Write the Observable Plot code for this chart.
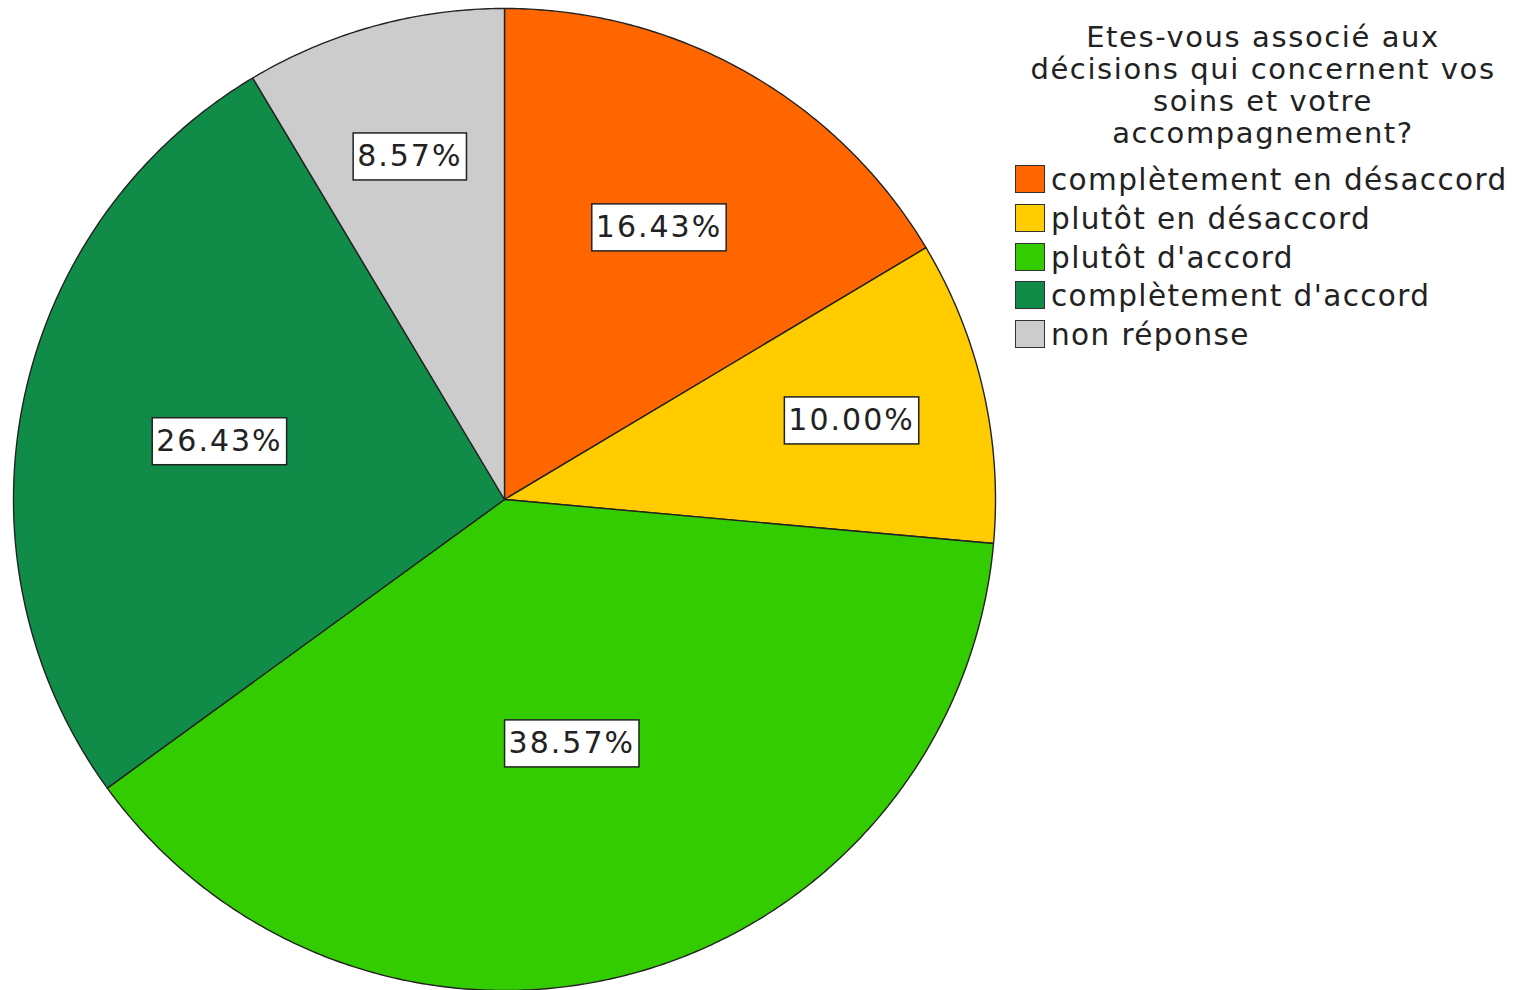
<!DOCTYPE html>
<html>
<head>
<meta charset="utf-8">
<script src="https://cdn.jsdelivr.net/npm/d3@7"></script>
<script src="https://cdn.jsdelivr.net/npm/@observablehq/plot@0.6"></script>
<style>
  html, body { margin: 0; padding: 0; background: #fff; }
  #wrap { position: relative; width: 1521px; height: 990px; font-family: "DejaVu Sans", Verdana, sans-serif; color: #222; }
  #legend { position: absolute; left: 1015px; top: 21px; width: 496px; }
  #legend .title { text-align: center; font-size: 29px; line-height: 32px; letter-spacing: 1.6px; width: 496px; }
  #legend .row { display: flex; align-items: center; height: 38.7px; font-size: 29.5px; letter-spacing: 1.4px; white-space: nowrap; }
  #legend .row span { position: relative; top: 1px; }
  #legend .sw { width: 28px; height: 26px; border: 1.5px solid #333; margin-right: 6px; box-sizing: content-box; }
  #legend .items { margin-top: 11px; }
</style>
</head>
<body>
<div id="wrap"></div>
<script>
// Data
const legendTitle = ["Etes-vous associé aux", "décisions qui concernent vos", "soins et votre", "accompagnement?"];
const categories = ["complètement en désaccord", "plutôt en désaccord", "plutôt d'accord", "complètement d'accord", "non réponse"];
const percents = [16.43, 10.00, 38.57, 26.43, 8.57];
const colors = ["#ff6600", "#ffcc00", "#33cc00", "#108c48", "#cccccc"];

// Build slice geometry in unit coordinates (start at 12 o'clock, clockwise)
const total = d3.sum(percents);
const slicePts = [];
const labels = [];
let acc = 0;
categories.forEach((c, i) => {
  const a0 = acc / total * 2 * Math.PI;
  acc += percents[i];
  const a1 = acc / total * 2 * Math.PI;
  slicePts.push({cat: c, x: 0, y: 0});
  const n = Math.max(2, Math.ceil((a1 - a0) / (Math.PI / 360)));
  for (let k = 0; k <= n; k++) {
    const a = a0 + (a1 - a0) * k / n;
    slicePts.push({cat: c, x: Math.sin(a), y: Math.cos(a)});
  }
  // label position: sector centroid; narrow slices pushed outward
  const th = a1 - a0;
  let r = 2 * Math.sin(th / 2) / (3 * th / 2);
  if (percents[i] / total < 0.12) r = 0.725;
  const am = (a0 + a1) / 2;
  labels.push({cat: c, text: percents[i].toFixed(2) + "%", x: r * Math.sin(am), y: r * Math.cos(am)});
});

const chart = Plot.plot({
  width: 1521,
  height: 990,
  marginLeft: 13,
  marginRight: 526,
  marginTop: 8,
  marginBottom: 0,
  x: {domain: [-1, 1], axis: null},
  y: {domain: [-1, 1], axis: null},
  color: {domain: categories, range: colors},
  marks: [
    Plot.line(slicePts, {x: "x", y: "y", z: "cat", fill: "cat", stroke: "#222", strokeWidth: 1.4, curve: "linear-closed", strokeLinejoin: "round"}),
    Plot.text(labels, {x: "x", y: "y", text: "text", fontSize: 30, fill: "#222", fontFamily: "DejaVu Sans", className: "slice-label"})
  ]
});
chart.style.fontFamily = "DejaVu Sans";
const wrap = document.getElementById("wrap");
wrap.appendChild(chart);

// boxes behind labels
chart.querySelectorAll(".slice-label text").forEach(t => {
  t.style.letterSpacing = "2px";
  const b = t.getBBox();
  const rect = document.createElementNS("http://www.w3.org/2000/svg", "rect");
  const padX = 4, padY = 6;
  rect.setAttribute("x", b.x - padX);
  rect.setAttribute("y", b.y - padY + 1);
  rect.setAttribute("width", b.width + 2 * padX);
  rect.setAttribute("height", b.height + 2 * padY);
  rect.setAttribute("fill", "#fff");
  rect.setAttribute("stroke", "#222");
  rect.setAttribute("stroke-width", "1.5");
  const tr = t.getAttribute("transform");
  if (tr) rect.setAttribute("transform", tr);
  t.parentNode.insertBefore(rect, t);
});

// Legend
const leg = document.createElement("div");
leg.id = "legend";
const title = document.createElement("div");
title.className = "title";
title.innerHTML = legendTitle.join("<br>");
leg.appendChild(title);
const items = document.createElement("div");
items.className = "items";
categories.forEach((c, i) => {
  const row = document.createElement("div");
  row.className = "row";
  const sw = document.createElement("div");
  sw.className = "sw";
  sw.style.background = colors[i];
  const lab = document.createElement("span");
  lab.textContent = c;
  row.appendChild(sw);
  row.appendChild(lab);
  items.appendChild(row);
});
leg.appendChild(items);
wrap.appendChild(leg);
</script>
</body>
</html>
